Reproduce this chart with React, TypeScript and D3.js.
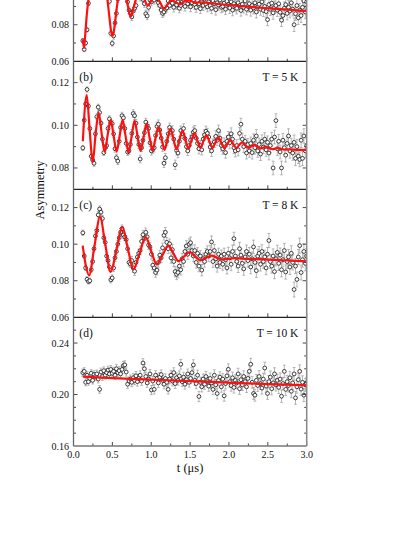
import * as d3 from 'd3';
import { useEffect, useRef } from 'react';

// bin centres (us), shared by all four runs
const T = [
  0.120, 0.138, 0.156, 0.174, 0.192, 0.210, 0.228, 0.246, 0.264, 0.282,
  0.300, 0.318, 0.336, 0.354, 0.372, 0.390, 0.408, 0.426, 0.444, 0.462,
  0.480, 0.498, 0.516, 0.534, 0.552, 0.570, 0.588, 0.606, 0.624, 0.642,
  0.660, 0.678, 0.696, 0.714, 0.732, 0.750, 0.768, 0.786, 0.804, 0.822,
  0.840, 0.858, 0.876, 0.894, 0.912, 0.930, 0.948, 0.966, 0.984, 1.002,
  1.020, 1.038, 1.056, 1.074, 1.092, 1.110, 1.128, 1.146, 1.164, 1.182,
  1.200, 1.218, 1.236, 1.254, 1.272, 1.290, 1.308, 1.326, 1.344, 1.362,
  1.380, 1.398, 1.416, 1.434, 1.452, 1.470, 1.488, 1.506, 1.524, 1.542,
  1.560, 1.578, 1.596, 1.614, 1.632, 1.650, 1.668, 1.686, 1.704, 1.722,
  1.740, 1.758, 1.776, 1.794, 1.812, 1.830, 1.848, 1.866, 1.884, 1.902,
  1.920, 1.938, 1.956, 1.974, 1.992, 2.010, 2.028, 2.046, 2.064, 2.082,
  2.100, 2.118, 2.136, 2.154, 2.172, 2.190, 2.208, 2.226, 2.244, 2.262,
  2.280, 2.298, 2.316, 2.334, 2.352, 2.370, 2.388, 2.406, 2.424, 2.442,
  2.460, 2.478, 2.496, 2.514, 2.532, 2.550, 2.568, 2.586, 2.604, 2.622,
  2.640, 2.658, 2.676, 2.694, 2.712, 2.730, 2.748, 2.766, 2.784, 2.802,
  2.820, 2.838, 2.856, 2.874, 2.892, 2.910, 2.928, 2.946, 2.964, 2.982,
  3.000
];

const A_VAL = [
  0.0712, 0.0665, 0.0700, 0.0772, 0.0917, 0.1010, 0.1040, 0.1100, 0.1120, 0.1150,
  0.1165, 0.1130, 0.1160, 0.1105, 0.1085, 0.1060, 0.0990, 0.0965, 0.0950, 0.0928,
  0.0753, 0.0698, 0.0739, 0.0810, 0.0862, 0.0940, 0.0985, 0.1010, 0.1030, 0.1005,
  0.0975, 0.0945, 0.0925, 0.0880, 0.0862, 0.0843, 0.0875, 0.0890, 0.0905, 0.0960,
  0.0980, 0.0950, 0.0975, 0.0938, 0.0915, 0.0860, 0.0848, 0.0895, 0.0935, 0.0925,
  0.0950, 0.0935, 0.0965, 0.0942, 0.0920, 0.0905, 0.0880, 0.0862, 0.0870, 0.0885,
  0.0892, 0.0930, 0.0905, 0.0940, 0.0918, 0.0895, 0.0935, 0.0908, 0.0925, 0.0890,
  0.0905, 0.0925, 0.0938, 0.0900, 0.0945, 0.0915, 0.0930, 0.0898, 0.0920, 0.0935,
  0.0910, 0.0895, 0.0930, 0.0915, 0.0888, 0.0925, 0.0905, 0.0940, 0.0912, 0.0898,
  0.0925, 0.0905, 0.0890, 0.0930, 0.0915, 0.0882, 0.0920, 0.0908, 0.0935, 0.0895,
  0.0900, 0.0918, 0.0885, 0.0928, 0.0910, 0.0892, 0.0925, 0.0880, 0.0915, 0.0902,
  0.0890, 0.0920, 0.0905, 0.0878, 0.0912, 0.0895, 0.0930, 0.0885, 0.0900, 0.0915,
  0.0880, 0.0905, 0.0892, 0.0920, 0.0870, 0.0898, 0.0912, 0.0885, 0.0925, 0.0878,
  0.0900, 0.0872, 0.0828, 0.0910, 0.0885, 0.0918, 0.0865, 0.0895, 0.0905, 0.0880,
  0.0915, 0.0868, 0.0825, 0.0850, 0.0890, 0.0910, 0.0862, 0.0895, 0.0875, 0.0920,
  0.0885, 0.0800, 0.0860, 0.0905, 0.0838, 0.0880, 0.0850, 0.0895, 0.0930, 0.0870,
  0.0925
];

const B_VAL = [
  0.0894, 0.1024, 0.1100, 0.1168, 0.1090, 0.0985, 0.0855, 0.0838, 0.0822, 0.0960,
  0.1040, 0.1085, 0.1060, 0.1010, 0.0935, 0.0872, 0.0895, 0.0905, 0.0985, 0.1030,
  0.1012, 0.1008, 0.0960, 0.0890, 0.0848, 0.0832, 0.0925, 0.0990, 0.1045, 0.1035,
  0.0985, 0.0915, 0.0875, 0.0880, 0.0910, 0.0962, 0.1055, 0.1045, 0.1010, 0.0945,
  0.0910, 0.0842, 0.0895, 0.0930, 0.0965, 0.1015, 0.0998, 0.0985, 0.0918, 0.0880,
  0.0888, 0.0895, 0.0952, 0.0995, 0.1005, 0.0978, 0.0940, 0.0898, 0.0822, 0.0848,
  0.0925, 0.0960, 0.0990, 0.0968, 0.0975, 0.0935, 0.0815, 0.0882, 0.0870, 0.0925,
  0.0975, 0.0960, 0.0985, 0.0938, 0.0900, 0.0880, 0.0905, 0.0930, 0.0945, 0.0968,
  0.0975, 0.0940, 0.0915, 0.0890, 0.0905, 0.0885, 0.0935, 0.0955, 0.0972, 0.0962,
  0.0945, 0.0898, 0.0880, 0.0910, 0.0922, 0.0948, 0.0930, 0.0975, 0.0940, 0.0905,
  0.0890, 0.0915, 0.0872, 0.0925, 0.0945, 0.0918, 0.0960, 0.0935, 0.0895, 0.0880,
  0.0905, 0.0885, 0.0962, 0.1005, 0.0935, 0.0900, 0.0925, 0.0870, 0.0910, 0.0880,
  0.0915, 0.0872, 0.0930, 0.0895, 0.0950, 0.0880, 0.0910, 0.0865, 0.0925, 0.0898,
  0.0935, 0.0885, 0.0920, 0.0870, 0.0905, 0.0935, 0.0800, 0.0945, 0.1022, 0.0890,
  0.0925, 0.0875, 0.0800, 0.0930, 0.0895, 0.0860, 0.0915, 0.0950, 0.0880, 0.0905,
  0.0870, 0.0920, 0.0845, 0.0900, 0.0855, 0.0840, 0.0930, 0.0845, 0.0950, 0.0880,
  0.0905
];

const C_VAL = [
  0.1062, 0.0935, 0.0870, 0.0808, 0.0796, 0.0800, 0.0860, 0.0905, 0.0975, 0.1045,
  0.1075, 0.1160, 0.1192, 0.1175, 0.1140, 0.1035, 0.1010, 0.0935, 0.0910, 0.0875,
  0.0805, 0.0815, 0.0870, 0.0925, 0.0960, 0.1000, 0.1035, 0.1065, 0.1085, 0.1050,
  0.1040, 0.1025, 0.0975, 0.0900, 0.0892, 0.0910, 0.0870, 0.0852, 0.0900, 0.0930,
  0.0950, 0.0965, 0.1015, 0.1052, 0.1030, 0.1065, 0.1040, 0.0995, 0.0985, 0.0945,
  0.0885, 0.0870, 0.0845, 0.0858, 0.0900, 0.0940, 0.0925, 0.0980, 0.1048, 0.1065,
  0.1010, 0.0975, 0.1002, 0.0925, 0.0970, 0.0905, 0.0850, 0.0835, 0.0845, 0.0880,
  0.0860, 0.0920, 0.0905, 0.0960, 0.0990, 0.0945, 0.1000, 0.1008, 0.0965, 0.0935,
  0.0965, 0.0900, 0.0950, 0.0880, 0.0935, 0.0858, 0.0920, 0.0905, 0.0945, 0.0960,
  0.0935, 0.0960, 0.1012, 0.0905, 0.0965, 0.0920, 0.0880, 0.0945, 0.0900, 0.0935,
  0.0890, 0.0945, 0.0915, 0.0870, 0.0950, 0.0925, 0.0890, 0.0960, 0.1030, 0.0935,
  0.0905, 0.0880, 0.0975, 0.0940, 0.0895, 0.0865, 0.0930, 0.0960, 0.0910, 0.0945,
  0.0875, 0.0920, 0.0985, 0.0900, 0.0855, 0.0935, 0.0950, 0.0890, 0.0960, 0.0905,
  0.0930, 0.0870, 0.0945, 0.1020, 0.0905, 0.0880, 0.0935, 0.0850, 0.0920, 0.0955,
  0.0895, 0.0940, 0.0860, 0.0915, 0.0965, 0.0848, 0.0905, 0.0930, 0.0875, 0.0950,
  0.0900, 0.0752, 0.0880, 0.0807, 0.0930, 0.0992, 0.0845, 0.0915, 0.0960, 0.0895,
  0.0935
];

const D_VAL = [
  0.2170, 0.2180, 0.2095, 0.2150, 0.2100, 0.2125, 0.2165, 0.2110, 0.2155, 0.2140,
  0.2160, 0.2120, 0.2040, 0.2175, 0.2140, 0.2185, 0.2150, 0.2170, 0.2190, 0.2160,
  0.2195, 0.2165, 0.2180, 0.2150, 0.2200, 0.2170, 0.2185, 0.2160, 0.2195, 0.2225,
  0.2230, 0.2175, 0.2080, 0.2105, 0.2120, 0.2095, 0.2130, 0.2110, 0.2145, 0.2100,
  0.2125, 0.2150, 0.2105, 0.2245, 0.2200, 0.2140, 0.2090, 0.2120, 0.2160, 0.2035,
  0.2105, 0.2040, 0.2150, 0.2125, 0.2090, 0.2135, 0.2155, 0.2110, 0.2080, 0.2125,
  0.2095, 0.2040, 0.2120, 0.2150, 0.2105, 0.2170, 0.2085, 0.2130, 0.2110, 0.2145,
  0.2235, 0.2100, 0.2135, 0.2080, 0.2115, 0.2160, 0.2095, 0.2125, 0.2170, 0.2230,
  0.2110, 0.2085, 0.2150, 0.1985, 0.2095, 0.2060, 0.2120, 0.2080, 0.2140, 0.2100,
  0.2065, 0.2125, 0.2090, 0.2040, 0.2150, 0.2075, 0.2008, 0.2110, 0.2135, 0.2060,
  0.2120, 0.1990, 0.2085, 0.2145, 0.2196, 0.2100, 0.2070, 0.2130, 0.2055, 0.2110,
  0.2090, 0.2160, 0.2045, 0.2115, 0.2075, 0.2140, 0.2100, 0.2060, 0.2125, 0.2180,
  0.2235, 0.2095, 0.2008, 0.1995, 0.2110, 0.2070, 0.2140, 0.2085, 0.2050, 0.2120,
  0.2206, 0.2065, 0.2008, 0.2100, 0.2135, 0.2045, 0.2090, 0.2160, 0.2075, 0.2110,
  0.2055, 0.2120, 0.1987, 0.2085, 0.2180, 0.2040, 0.2100, 0.2070, 0.2130, 0.2025,
  0.2090, 0.2160, 0.1974, 0.2060, 0.2115, 0.2180, 0.2042, 0.2095, 0.1995, 0.2075,
  0.2085
];

// error bar half-heights, one per 0.25 us stretch of time
const ERR_A = [0.0012, 0.0015, 0.0018, 0.0020, 0.0022, 0.0025, 0.0027, 0.0029, 0.0031, 0.0033, 0.0035, 0.0037];
const ERR_B = [0.0012, 0.0014, 0.0016, 0.0018, 0.0020, 0.0022, 0.0024, 0.0026, 0.0028, 0.0030, 0.0032, 0.0034];
const ERR_C = [0.0014, 0.0017, 0.0020, 0.0023, 0.0026, 0.0029, 0.0031, 0.0033, 0.0035, 0.0037, 0.0039, 0.0041];
const ERR_D = [0.0028, 0.0030, 0.0032, 0.0034, 0.0036, 0.0038, 0.0040, 0.0042, 0.0044, 0.0046, 0.0048, 0.0050];

// fitted curves
const FIT_A_T = [0.120, 0.135, 0.150, 0.170, 0.190, 0.210, 0.260, 0.320, 0.380, 0.430, 0.460, 0.485, 0.504, 0.525, 0.550, 0.580, 0.630, 0.680, 0.710, 0.736, 0.765, 0.800, 0.850, 0.900, 0.955, 1.000, 1.060, 1.110, 1.168, 1.220, 1.260, 1.310, 1.370, 1.430, 1.500, 1.560, 1.620, 1.700, 1.800, 2.000, 2.200, 2.400, 2.600, 2.800, 3.000];
const FIT_A_V = [0.0720, 0.0672, 0.0740, 0.0850, 0.0930, 0.1000, 0.1120, 0.1150, 0.1080, 0.0960, 0.0850, 0.0760, 0.0740, 0.0780, 0.0870, 0.0960, 0.1020, 0.0950, 0.0880, 0.0843, 0.0880, 0.0935, 0.0970, 0.0950, 0.0905, 0.0930, 0.0955, 0.0925, 0.0888, 0.0918, 0.0935, 0.0925, 0.0911, 0.0930, 0.0932, 0.0920, 0.0922, 0.0921, 0.0916, 0.0908, 0.0900, 0.0893, 0.0887, 0.0881, 0.0874];

const FIT_B_T = [0.120, 0.170, 0.2085, 0.247, 0.2855, 0.324, 0.3625, 0.401, 0.4395, 0.478, 0.5165, 0.555, 0.5935, 0.632, 0.6705, 0.709, 0.7475, 0.786, 0.8245, 0.863, 0.9015, 0.940, 0.9785, 1.017, 1.0555, 1.094, 1.1325, 1.171, 1.2095, 1.248, 1.2865, 1.325, 1.3635, 1.402, 1.4405, 1.479, 1.5175, 1.556, 1.5945, 1.633, 1.6715, 1.710, 1.7485, 1.787, 1.8255, 1.864, 1.9025, 1.941, 1.9795, 2.018, 2.0565, 2.095, 2.1335, 2.172, 2.2105, 2.249, 2.2875, 2.326, 2.3645, 2.403, 2.4415, 2.480, 2.5185, 2.557, 2.5955, 2.634, 2.6725, 2.711, 2.7495, 2.788, 2.8265, 2.865, 2.9035, 2.942, 3.000];
const FIT_B_V = [0.0925, 0.1142, 0.0975, 0.0827, 0.0962, 0.1060, 0.0960, 0.0875, 0.0955, 0.1025, 0.0950, 0.0877, 0.0950, 0.1025, 0.0948, 0.0874, 0.0947, 0.1022, 0.0946, 0.0880, 0.0944, 0.1008, 0.0943, 0.0882, 0.0940, 0.0993, 0.0938, 0.0885, 0.0936, 0.0985, 0.0935, 0.0887, 0.0933, 0.0975, 0.0932, 0.0890, 0.0930, 0.0964, 0.0928, 0.0894, 0.0926, 0.0954, 0.0923, 0.0894, 0.0920, 0.0944, 0.0917, 0.0893, 0.0913, 0.0932, 0.0911, 0.0893, 0.0909, 0.0920, 0.0905, 0.0894, 0.0902, 0.0909, 0.0899, 0.0892, 0.0896, 0.0899, 0.0893, 0.0888, 0.0891, 0.0893, 0.0889, 0.0886, 0.0887, 0.0887, 0.0886, 0.0885, 0.0885, 0.0885, 0.0884];

const FIT_C_T = [0.118, 0.160, 0.200, 0.270, 0.341, 0.410, 0.478, 0.553, 0.628, 0.700, 0.770, 0.850, 0.929, 1.000, 1.070, 1.145, 1.220, 1.285, 1.349, 1.420, 1.495, 1.565, 1.630, 1.705, 1.780, 1.850, 1.920, 2.000, 2.080, 2.200, 2.400, 2.600, 2.800, 3.000];
const FIT_C_V = [0.0992, 0.0880, 0.0829, 0.0990, 0.1150, 0.0995, 0.0848, 0.0970, 0.1094, 0.0975, 0.0863, 0.0950, 0.1039, 0.0962, 0.0890, 0.0940, 0.0992, 0.0950, 0.0907, 0.0932, 0.0956, 0.0932, 0.0913, 0.0925, 0.0937, 0.0925, 0.0916, 0.0921, 0.0924, 0.0920, 0.0918, 0.0914, 0.0910, 0.0906];

const FIT_D_T = [0.120, 0.500, 1.000, 1.500, 2.000, 2.500, 3.000];
const FIT_D_V = [0.2140, 0.2128, 0.2115, 0.2104, 0.2092, 0.2081, 0.2071];

const X_TICKS = [0, 0.5, 1.0, 1.5, 2.0, 2.5, 3.0];

const PANELS = [
  { vals: A_VAL, err: ERR_A, fitT: FIT_A_T, fitV: FIT_A_V, domain: [0.06, 0.13], top: -66.7, bottom: 61.3, labels: [0.06, 0.08, 0.10, 0.12], minor: 0.01, tag: null, temp: null },
  { vals: B_VAL, err: ERR_B, fitT: FIT_B_T, fitV: FIT_B_V, domain: [0.07, 0.13], top: 61.3, bottom: 189.3, labels: [0.08, 0.10, 0.12], minor: 0.01, tag: '(b)', temp: 'T = 5 K' },
  { vals: C_VAL, err: ERR_C, fitT: FIT_C_T, fitV: FIT_C_V, domain: [0.06, 0.13], top: 189.3, bottom: 317.3, labels: [0.06, 0.08, 0.10, 0.12], minor: 0.01, tag: '(c)', temp: 'T = 8 K' },
  { vals: D_VAL, err: ERR_D, fitT: FIT_D_T, fitV: FIT_D_V, domain: [0.16, 0.26], top: 317.3, bottom: 446, labels: [0.16, 0.20, 0.24], minor: 0.01, tag: '(d)', temp: 'T = 10 K' },
];

const FONT = "'Liberation Serif', 'Times New Roman', serif";

export default function App() {
  const ref = useRef(null);

  useEffect(() => {
    const width = 415, height = 537;
    const x0 = 73.5, x1 = 306.7;

    const svg = d3.select(ref.current).html('')
      .append('svg')
      .attr('width', width)
      .attr('height', height)
      .style('position', 'absolute')
      .style('left', 0)
      .style('top', 0)
      .style('background', '#fff');

    const x = d3.scaleLinear().domain([0, 3]).range([x0, x1]);

    PANELS.forEach((p, k) => {
      const y = d3.scaleLinear().domain(p.domain).range([p.bottom, p.top]);
      const clipId = 'clip' + k;
      svg.append('clipPath').attr('id', clipId)
        .append('rect')
        .attr('x', x0).attr('y', p.top)
        .attr('width', x1 - x0).attr('height', p.bottom - p.top);

      const g = svg.append('g').attr('clip-path', 'url(#' + clipId + ')');
      const pts = T.map((t, i) => ({ t, v: p.vals[i], e: p.err[Math.min(11, Math.floor(t / 0.25))] }));

      // error bars
      const eb = g.append('g').attr('stroke', '#9a9a9a').attr('stroke-width', 0.7);
      pts.forEach(d => {
        const cx = x(d.t);
        eb.append('line').attr('x1', cx).attr('x2', cx).attr('y1', y(d.v - d.e)).attr('y2', y(d.v + d.e));
        eb.append('line').attr('x1', cx - 1.4).attr('x2', cx + 1.4).attr('y1', y(d.v - d.e)).attr('y2', y(d.v - d.e));
        eb.append('line').attr('x1', cx - 1.4).attr('x2', cx + 1.4).attr('y1', y(d.v + d.e)).attr('y2', y(d.v + d.e));
      });

      // open circles
      g.append('g').selectAll('circle')
        .data(pts)
        .enter().append('circle')
        .attr('cx', d => x(d.t))
        .attr('cy', d => y(d.v))
        .attr('r', 1.9)
        .attr('fill', '#fff')
        .attr('stroke', '#111')
        .attr('stroke-width', 0.8);

      // fit
      const line = d3.line()
        .x(d => x(d[0]))
        .y(d => y(d[1]))
        .curve(d3.curveMonotoneX);
      g.append('path')
        .datum(p.fitT.map((t, i) => [t, p.fitV[i]]))
        .attr('d', line)
        .attr('fill', 'none')
        .attr('stroke', '#ff1010')
        .attr('stroke-width', 2.2)
        .attr('stroke-linejoin', 'round');

      // y ticks (both sides, inward)
      const minors = d3.range(p.domain[0], p.domain[1] + 1e-6, p.minor);
      const ax = svg.append('g').attr('stroke', '#333').attr('stroke-width', 0.9);
      minors.forEach(v => {
        const major = p.labels.some(l => Math.abs(l - v) < 1e-6);
        const len = major ? 4 : 2.5;
        const yy = y(v);
        if (yy <= p.top + 0.5 || yy >= p.bottom - 0.5) return;
        ax.append('line').attr('x1', x0).attr('x2', x0 + len).attr('y1', yy).attr('y2', yy);
        ax.append('line').attr('x1', x1).attr('x2', x1 - len).attr('y1', yy).attr('y2', yy);
      });

      // x ticks at panel bottom, pointing up
      d3.range(0, 3.0001, 0.25).forEach(t => {
        const major = Math.abs(t * 2 - Math.round(t * 2)) < 1e-6;
        const len = major ? 4 : 2.5;
        ax.append('line').attr('x1', x(t)).attr('x2', x(t)).attr('y1', p.bottom).attr('y2', p.bottom - len);
      });

      // y tick labels (only those inside the page)
      p.labels.forEach(v => {
        if (y(v) < 6) return;
        svg.append('text')
          .attr('x', x0 - 4.5)
          .attr('y', y(v))
          .attr('dy', '0.35em')
          .attr('text-anchor', 'end')
          .attr('font-family', FONT)
          .attr('font-size', 10)
          .attr('fill', '#111')
          .text(d3.format('.2f')(v));
      });

      // panel separator / bottom line
      svg.append('line')
        .attr('x1', x0).attr('x2', x1)
        .attr('y1', p.bottom).attr('y2', p.bottom)
        .attr('stroke', k === 3 ? '#777' : '#222')
        .attr('stroke-width', k === 3 ? 1.5 : 1.2);

      if (p.tag) {
        svg.append('text')
          .attr('x', x0 + 5.8).attr('y', p.top + 19.5)
          .attr('font-family', FONT).attr('font-size', 11.5)
          .attr('fill', '#111')
          .text(p.tag);
      }
      if (p.temp) {
        svg.append('text')
          .attr('x', x1 - 8.3).attr('y', p.top + 19.5)
          .attr('text-anchor', 'end')
          .attr('font-family', FONT).attr('font-size', 11.5)
          .attr('fill', '#111')
          .text(p.temp);
      }
    });

    // side borders
    svg.append('line').attr('x1', x0).attr('x2', x0).attr('y1', 0).attr('y2', 446)
      .attr('stroke', '#666').attr('stroke-width', 1.3);
    svg.append('line').attr('x1', x1).attr('x2', x1).attr('y1', 0).attr('y2', 446)
      .attr('stroke', '#888').attr('stroke-width', 1.5);

    // x tick labels
    X_TICKS.forEach(t => {
      svg.append('text')
        .attr('x', x(t)).attr('y', 457.5)
        .attr('text-anchor', 'middle')
        .attr('font-family', FONT).attr('font-size', 10)
        .attr('fill', '#111')
        .text(d3.format('.1f')(t));
    });

    svg.append('text')
      .attr('x', x(1.5)).attr('y', 471.5)
      .attr('text-anchor', 'middle')
      .attr('font-family', FONT).attr('font-size', 12.5)
      .attr('fill', '#111')
      .text('t (μs)');

    svg.append('text')
      .attr('transform', 'translate(44,190) rotate(-90)')
      .attr('text-anchor', 'middle')
      .attr('font-family', FONT).attr('font-size', 12.5)
      .attr('fill', '#111')
      .text('Asymmetry');
  }, []);

  return <div ref={ref}></div>;
}
